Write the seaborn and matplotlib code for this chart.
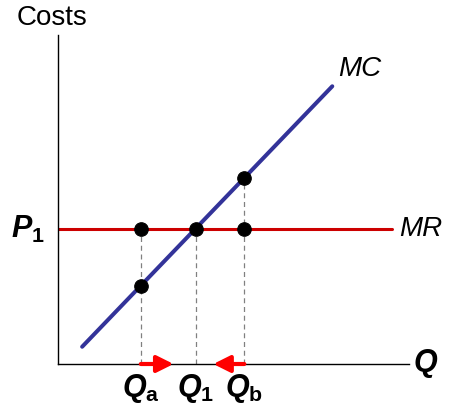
import matplotlib
matplotlib.use("Agg")
from matplotlib import pyplot as plt
import seaborn as sns
import pandas as pd

# 数据 (经济学示意图: 边际成本 MC 与边际收益 MR)
mc_q = [0.7, 7.95]          # MC 线的两个端点 (产量)
mc_c = [0.5, 8.05]          # MC 线的两个端点 (成本)
p1 = 3.9                    # 价格 P1 = MR
mr_q = [0.0, 9.68]          # MR 线的范围
q_a, q_1, q_b = 2.4, 4.0, 5.4
dot_q = [q_a, q_1, q_b, q_a, q_b]
dot_c = [p1, p1, p1, 2.27, 5.4]
drop_top = [p1, p1, 5.4]    # 虚线起点
arrows = [(q_a, 3.35), (q_b, 4.5)]
q_labels = [r"$Q_\mathrm{a}$", r"$Q_1$", r"$Q_\mathrm{b}$"]
x_end, y_end = 10.17, 9.54

sns.set_style("white")
plt.rcParams["font.family"] = ["Liberation Sans", "DejaVu Sans"]
plt.rcParams["text.color"] = "black"
plt.rcParams["mathtext.fontset"] = "custom"
plt.rcParams["mathtext.it"] = "Liberation Sans:italic:bold"
plt.rcParams["mathtext.rm"] = "Liberation Sans:bold"
plt.rcParams["mathtext.bf"] = "Liberation Sans:bold"

fig = plt.figure(figsize=(4.71, 4.04), dpi=100)
ax = fig.add_axes([58 / 471, 40 / 404, 413 / 471, 364 / 404])
ax.set_xlim(0, 413 / 34.5)
ax.set_ylim(0, 364 / 34.5)

# 坐标轴
for s in ["top", "right"]:
    ax.spines[s].set_visible(False)
ax.spines["left"].set_bounds(0, y_end)
ax.spines["bottom"].set_bounds(0, x_end)
for s in ["left", "bottom"]:
    ax.spines[s].set_color("black")
    ax.spines[s].set_linewidth(1.0)
ax.set_xticks([])
ax.set_yticks([])

# 虚线
for q, top in zip([q_a, q_1, q_b], drop_top):
    ax.plot([q, q], [0, top], color="#808080", lw=0.9, ls=(0, (4, 3)), zorder=1)

# MR 与 MC
mr_df = pd.DataFrame({"q": mr_q, "c": [p1, p1]})
mc_df = pd.DataFrame({"q": mc_q, "c": mc_c})
sns.lineplot(data=mr_df, x="q", y="c", color="#CC0000", lw=2.2, ax=ax, zorder=2)
sns.lineplot(data=mc_df, x="q", y="c", color="#333399", lw=2.9, ax=ax, zorder=3)

# 点
sns.scatterplot(x=dot_q, y=dot_c, color="black", s=95, edgecolor="black", ax=ax, zorder=4)

# 红色箭头
for start, end in arrows:
    ax.annotate("", xy=(end, 0), xytext=(start, 0),
                arrowprops=dict(arrowstyle="-|>,head_length=0.5,head_width=0.25",
                                color="#FF0000", lw=3,
                                mutation_scale=20, shrinkA=0, shrinkB=0),
                zorder=5)

ax.set_xlabel("")
ax.set_ylabel("")

# 文字
ax.text(-1.19, 10.03, "Costs", fontsize=20, color="black", ha="left", va="center")
ax.text(8.12, 8.55, "MC", fontsize=20, color="black", style="italic", ha="left", va="center")
ax.text(9.88, p1, "MR", fontsize=20, color="black", style="italic", ha="left", va="center")
ax.text(10.3, 0, r"$Q$", fontsize=22, color="black", ha="left", va="center")
ax.text(-0.38, p1, r"$P_1$", fontsize=22, color="black", ha="right", va="center")
for q, lab in zip([q_a, q_1, q_b], q_labels):
    ax.text(q, -0.22, lab, fontsize=22, color="black", ha="center", va="top")

fig.savefig("out.png", dpi=100)
